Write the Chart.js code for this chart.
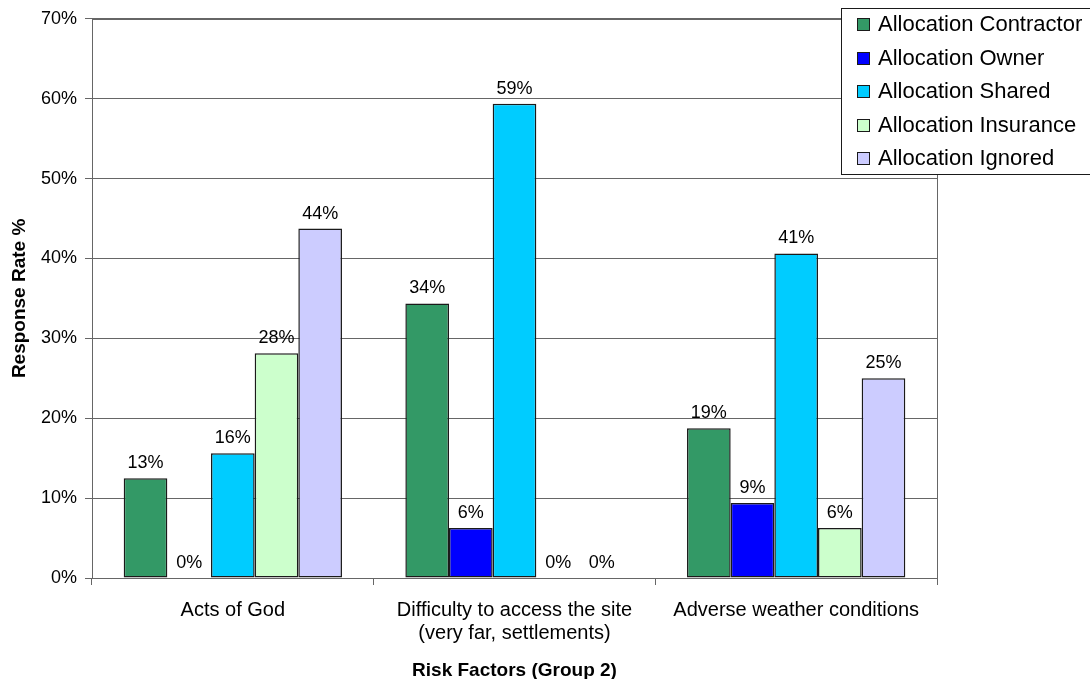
<!DOCTYPE html>
<html>
<head>
<meta charset="utf-8">
<title>Risk Factors (Group 2)</title>
<script src="https://cdn.jsdelivr.net/npm/chart.js@4.4.1/dist/chart.umd.min.js"></script>
<style>
  html, body { margin: 0; padding: 0; background: #fff; }
  #wrap { position: relative; width: 1090px; height: 679px; }
</style>
</head>
<body>
<div id="wrap"><canvas id="riskChart"></canvas></div>
<script>
  // categories and response shares (%) per allocation
  const CATEGORIES = [
    "Acts of God",
    ["Difficulty to access the site", "(very far, settlements)"],
    "Adverse weather conditions"
  ];
  const SERIES = ["Allocation Contractor", "Allocation Owner", "Allocation Shared", "Allocation Insurance", "Allocation Ignored"];
  const CONTRACTOR = [12.5, 34.375, 18.75];
  const OWNER = [0, 6.25, 9.375];
  const SHARED = [15.625, 59.375, 40.625];
  const INSURANCE = [28.125, 0, 6.25];
  const IGNORED = [43.75, 0, 25];
  const Y_TICKS = [0, 10, 20, 30, 40, 50, 60, 70];

  const COLORS = ["#339966", "#0000FF", "#00CCFF", "#CCFFCC", "#CCCCFF"];
  const FONT = "'Liberation Sans', Arial, sans-serif";
  const GRID = "#666", EDGE = "#1a1a1a";

  const pct = v => Math.round(v) + "%";

  // value labels above each bar
  const barLabels = {
    id: "barLabels",
    afterDatasetsDraw(chart) {
      const ctx = chart.ctx;
      ctx.save();
      ctx.font = "18px " + FONT;
      ctx.fillStyle = "#000";
      ctx.textAlign = "center";
      ctx.textBaseline = "alphabetic";
      chart.data.datasets.forEach((ds, i) => {
        chart.getDatasetMeta(i).data.forEach((bar, j) => {
          ctx.fillText(pct(ds.data[j]), bar.x, bar.y - 10);
        });
      });
      ctx.restore();
    }
  };

  // frame round the plot area
  const plotFrame = {
    id: "plotFrame",
    beforeDatasetsDraw(chart) {
      const a = chart.chartArea, ctx = chart.ctx;
      ctx.save();
      ctx.strokeStyle = GRID;
      ctx.lineWidth = 1;
      ctx.strokeRect(Math.round(a.left) + 0.5, Math.round(a.top) + 0.5, Math.round(a.right - a.left), Math.round(a.bottom - a.top));
      ctx.restore();
    }
  };

  // boxed legend in the upper right corner
  const boxLegend = {
    id: "boxLegend",
    afterDraw(chart) {
      const ctx = chart.ctx;
      const x = 841, y = 8, w = 260, h = 166;
      ctx.save();
      ctx.fillStyle = "#fff";
      ctx.fillRect(x, y, w, h);
      ctx.strokeStyle = EDGE;
      ctx.lineWidth = 1;
      ctx.strokeRect(x + 0.5, y + 0.5, w, h);
      ctx.font = "22px " + FONT;
      ctx.textBaseline = "middle";
      ctx.textAlign = "left";
      chart.data.datasets.forEach((ds, i) => {
        const cy = 24 + i * 33.5;
        ctx.fillStyle = ds.backgroundColor;
        ctx.fillRect(857, Math.round(cy - 6), 13, 13);
        ctx.strokeStyle = EDGE;
        ctx.strokeRect(857.5, Math.round(cy - 6) + 0.5, 12, 12);
        ctx.fillStyle = "#000";
        ctx.fillText(ds.label, 878, cy + 1);
      });
      ctx.restore();
    }
  };

  const seriesData = [CONTRACTOR, OWNER, SHARED, INSURANCE, IGNORED];

  new Chart(document.getElementById("riskChart"), {
    type: "bar",
    data: {
      labels: CATEGORIES,
      datasets: SERIES.map((name, i) => ({
        label: name,
        data: seriesData[i],
        backgroundColor: COLORS[i],
        borderColor: EDGE,
        borderWidth: 1.5,
        borderSkipped: false,
        categoryPercentage: 0.775,
        barPercentage: 1
      }))
    },
    options: {
      responsive: true,
      maintainAspectRatio: false,
      animation: false,
      layout: { padding: { top: 17, right: 153, bottom: 0, left: 0 } },
      plugins: { legend: { display: false }, tooltip: { enabled: false } },
      scales: {
        x: {
          grid: { offset: true, drawOnChartArea: false, drawTicks: true, tickLength: 7, color: GRID },
          border: { color: GRID },
          ticks: { color: "#000", padding: 14, maxRotation: 0, font: { family: FONT, size: 20, lineHeight: 1.15 } },
          title: { display: true, text: "Risk Factors (Group 2)", color: "#000", padding: { top: 0, bottom: -1 }, font: { family: FONT, size: 19, weight: "bold", lineHeight: 1 } },
          afterFit: s => { s.height = 101; }
        },
        y: {
          min: 0, max: 70,
          afterBuildTicks: s => { s.ticks = Y_TICKS.map(v => ({ value: v })); },
          grid: { color: GRID, tickLength: 7 },
          border: { color: GRID },
          ticks: { color: "#000", padding: 8, callback: v => v + "%", font: { family: FONT, size: 18 } },
          title: { display: true, text: "Response Rate %", color: "#000", padding: { top: 10, bottom: 0 }, font: { family: FONT, size: 19, weight: "bold", lineHeight: 1 } },
          afterFit: s => { s.width = 92; }
        }
      }
    },
    plugins: [plotFrame, barLabels, boxLegend]
  });
</script>
</body>
</html>
